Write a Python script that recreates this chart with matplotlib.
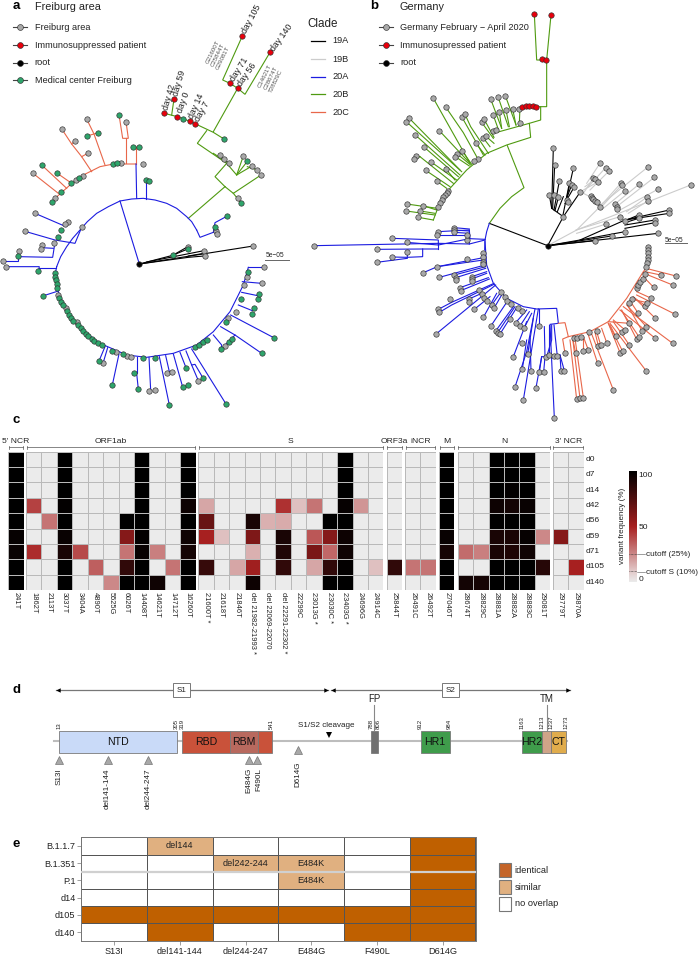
import numpy as np
import matplotlib
matplotlib.use('Agg')
import matplotlib.pyplot as plt
from matplotlib.colors import LinearSegmentedColormap, ListedColormap
from matplotlib.patches import Rectangle

plt.rcParams['font.family'] = ['Liberation Sans', 'DejaVu Sans']
W, H = 698, 955

BLUE, GREEN, ORANGE, LGREY = '#1c1ce0', '#4f9a10', '#e8674a', '#cccccc'
TIP_GREY, TIP_TEAL, TIP_RED = '#a9a9a9', '#2ea56b', '#e8000c'
TXT = '#222222'

# ---- panel a tree (units: 1/3 px, upper + lower part)
a_root = [(418, 792)]
a_black = [[(418, 792), (760, 738)], [(418, 792), (518, 766), (560, 742)], [(518, 766), (563, 747)],
           [(440, 786), (612, 752)], [(418, 792), (565, 772), (612, 768)], [(565, 768), (612, 760)]]
a_blue_up = [[(590, 690), (575, 665), (560, 650), (530, 625), (500, 610), (465, 600), (430, 595), (395, 597), (360, 603),
              (325, 620), (290, 640), (262, 665), (240, 690), (218, 715), (200, 740), (182, 770), (170, 800)],
             [(360, 603), (418, 792)], [(410, 595), (408, 492)], [(437, 597), (437, 541)], [(590, 690), (600, 712), (640, 697)],
             [(640, 697), (645, 668), (682, 648)], [(105, 640), (198, 680)], [(75, 694), (165, 720), (225, 730), (245, 682)]]
a_blue_low = [[(170, 125), (165, 150), (175, 200), (200, 260), (240, 310), (300, 355), (380, 390), (440, 397), (520, 385),
               (590, 360), (640, 320), (690, 260), (730, 180), (745, 127)],
              [(58, 95), (158, 97), (163, 65)], [(125, 68), (160, 70)], [(8, 108), (55, 108), (55, 95)],
              [(18, 125), (118, 125), (116, 136)], [(118, 128), (167, 128)], [(128, 213), (175, 198)],
              [(315, 365), (297, 408)], [(323, 368), (309, 415)], [(357, 387), (337, 480)], [(402, 445), (410, 445), (410, 395)],
              [(410, 445), (415, 493)], [(447, 397), (452, 495)], [(478, 395), (508, 540)], [(497, 392), (508, 440)],
              [(520, 387), (548, 486)], [(540, 382), (558, 428)], [(558, 378), (575, 420), (595, 467)], [(575, 420), (585, 418), (609, 459)],
              [(575, 372), (678, 537)], [(640, 330), (665, 360), (664, 372)], [(662, 305), (705, 330), (785, 385)],
              [(705, 330), (664, 372)], [(692, 270), (823, 339)], [(715, 240), (757, 257)], [(725, 202), (773, 212)],
              [(727, 170), (785, 175)], [(745, 127), (793, 127)]]
a_orange = [[(408, 492), (340, 492), (300, 500), (250, 525), (210, 555), (165, 595)],
            [(260, 357), (282, 402), (315, 495)], [(260, 408), (282, 402), (293, 398)],
            [(186, 388), (215, 432), (245, 470), (275, 515)], [(225, 422), (215, 432)], [(263, 460), (245, 470)],
            [(125, 495), (200, 565)], [(172, 520), (215, 550)], [(99, 520), (175, 580)],
            [(357, 344), (368, 415), (385, 415), (378, 365)], [(378, 415), (378, 490)], [(400, 442), (416, 441)], [(408, 442), (408, 492)]]
a_green = [[(565, 655), (675, 560)], [(675, 560), (700, 580), (783, 525)], [(700, 580), (712, 595), (722, 609)],
           [(675, 560), (645, 530), (680, 490)], [(680, 490), (710, 525), (730, 468)], [(710, 525), (742, 484)], [(710, 525), (756, 498)],
           [(742, 500), (772, 510)], [(640, 460), (686, 489)], [(680, 490), (592, 430), (620, 392)], [(493, 340), (532, 350), (570, 364), (640, 397), (672, 417)],
           [(515, 345), (522, 297)], [(640, 395), (713, 265), (735, 283), (810, 157)], [(713, 265), (690, 250), (668, 240), (727, 108)]]
a_grey_up = [(760, 738), (563, 740), (612, 752), (614, 768), (649, 692), (650, 702), (245, 682), (105, 640), (75, 694), (205, 665), (195, 672),
             (58, 753), (8, 783), (18, 800), (127, 735), (122, 747), (163, 730), (660, 465), (672, 477), (686, 489), (730, 468), (756, 498),
             (772, 510), (783, 525), (713, 595), (260, 357), (186, 388), (225, 422), (263, 460), (99, 520), (378, 365), (363, 490), (428, 491),
             (250, 527), (227, 541), (165, 595)]
a_teal_up = [(518, 766), (563, 747), (645, 680), (682, 648), (183, 690), (173, 712), (55, 768), (115, 812), (672, 417), (742, 484), (722, 609),
             (550, 356), (293, 398), (260, 408), (125, 495), (172, 520), (157, 606), (357, 344), (400, 442), (416, 441), (338, 493), (350, 490),
             (238, 533), (214, 548), (184, 575), (437, 541), (448, 542)]
a_red_up = [(493, 340), (532, 350), (569, 364), (586, 372), (522, 297), (690, 250), (713, 265), (727, 108), (810, 157)]
a_grey_low = [(175, 210), (197, 250), (230, 292), (347, 381), (380, 392), (392, 395), (309, 415), (448, 498), (464, 496), (502, 444), (516, 440),
              (595, 467), (676, 363), (708, 260), (685, 280), (733, 181), (742, 155), (793, 127), (785, 175)]
a_teal_low = [(165, 145), (165, 155), (168, 165), (170, 177), (172, 188), (128, 213), (178, 220), (183, 230), (190, 240), (202, 258), (208, 270),
              (213, 278), (220, 287), (235, 300), (243, 310), (250, 318), (258, 326), (265, 333), (275, 341), (283, 348), (295, 353), (305, 360),
              (335, 377), (368, 388), (428, 398), (464, 398), (585, 366), (597, 360), (608, 352), (620, 345), (297, 408), (337, 480), (402, 445),
              (415, 493), (508, 540), (548, 486), (563, 480), (558, 428), (609, 459), (678, 537), (664, 372), (686, 352), (697, 341), (785, 385),
              (823, 339), (677, 290), (757, 266), (762, 250), (722, 222), (773, 222), (778, 206), (745, 140)]

day_text = ['day 42', 'day 59', 'day 0', 'day 14', 'day 7', 'day 71', 'day 56', 'day 105', 'day 140']
day_xy = [(497, 328), (528, 288), (538, 338), (574, 354), (591, 362), (697, 241), (719, 256), (733, 100), (816, 150)]
day_rot = [74, 74, 70, 66, 61, 58, 55, 62, 54]
mut_text = ['G21600T\nC25844T\nG29081T', 'C14621T\nC28674T\nT28829C']
mut_xy = [(654, 165), (812, 235)]

# ---- panel b tree
b_root = [(593, 737)]
b_black = [[(593, 737), (418, 670)], [(593, 737), (640, 650), (690, 577)], [(640, 650), (605, 625), (598, 585)], [(605, 625), (610, 443)],
           [(608, 625), (614, 495)], [(612, 630), (628, 543)], [(615, 632), (625, 592)], [(622, 635), (640, 590)], [(638, 650), (658, 550)],
           [(650, 595), (670, 505)], [(648, 600), (665, 555)], [(650, 600), (672, 562)], [(645, 610), (655, 605)],
           [(593, 737), (925, 700)], [(593, 737), (735, 722)], [(593, 737), (785, 708)], [(593, 737), (690, 720), (825, 695)], [(690, 720), (825, 660), (958, 630)],
           [(825, 660), (958, 640)], [(825, 675), (915, 660)], [(825, 685), (915, 668)], [(825, 662), (866, 645)], [(825, 668), (866, 655)]]
b_lgrey = [[(593, 737), (680, 690), (1022, 555)], [(680, 700), (768, 672)], [(678, 690), (810, 650)], [(680, 690), (750, 620), (720, 590), (700, 580), (730, 535)],
           [(700, 570), (745, 545)], [(705, 560), (735, 538)], [(710, 550), (750, 490)], [(715, 560), (767, 503)], [(720, 570), (777, 513)],
           [(745, 620), (895, 500)], [(750, 620), (812, 550)], [(755, 620), (815, 555)], [(760, 625), (825, 572)], [(795, 612), (868, 552)], [(800, 620), (913, 532)],
           [(810, 630), (925, 567)], [(830, 635), (890, 592)], [(835, 640), (895, 602)]]
b_green = [[(418, 670), (450, 625), (485, 590), (522, 563), (472, 437)], [(250, 660), (265, 620), (300, 565), (350, 510), (410, 460), (470, 435), (542, 412), (538, 370), (430, 400)],
           [(538, 370), (572, 360), (572, 320), (510, 320), (508, 370)], [(572, 320), (590, 320), (590, 180), (560, 180), (553, 43)], [(590, 180), (603, 45)],
           [(422, 297), (455, 385)], [(444, 290), (475, 380)], [(466, 287), (498, 375)], [(430, 346), (445, 388)], [(448, 336), (455, 385)], [(468, 330), (478, 380)],
           [(488, 327), (498, 375)], [(395, 367), (430, 415)], [(402, 357), (432, 412)], [(400, 414), (420, 440)], [(408, 409), (432, 430)], [(378, 430), (405, 465)],
           [(335, 350), (400, 465)], [(345, 343), (362, 380), (415, 460)], [(287, 321), (340, 398), (380, 470)], [(249, 293), (360, 490)], [(178, 355), (330, 510)],
           [(169, 365), (335, 515)], [(196, 405), (330, 525)], [(268, 392), (360, 490)], [(223, 442), (325, 530)], [(199, 467), (210, 470), (310, 550)],
           [(193, 478), (210, 470)], [(242, 485), (320, 540)], [(227, 511), (300, 560)], [(287, 506), (315, 540)], [(260, 543), (290, 565)],
           [(337, 453), (365, 493)], [(322, 462), (362, 495)], [(316, 470), (358, 498)], [(170, 612), (262, 625)], [(169, 633), (255, 645)],
           [(219, 617), (260, 630)], [(211, 633), (255, 640)], [(205, 652), (250, 660)]]
b_blue_up = [[(418, 670), (410, 695), (405, 720), (404, 750)], [(405, 718), (360, 716), (358, 690)], [(358, 716), (265, 735), (265, 720), (127, 715)], [(265, 735), (170, 727)]]
b_blue_low = [[(405, 50), (410, 120), (430, 175), (470, 220), (520, 245), (560, 252), (620, 250), (625, 295), (600, 298), (613, 579)],
              [(-108, 62), (265, 55), (358, 57), (405, 45)], [(358, 57), (358, 15), (263, 20)], [(358, 12), (313, 8)], [(358, 18), (313, 15)], [(358, 25), (312, 22)],
              [(358, 30), (260, 30)], [(265, 72), (218, 72), (80, 73)], [(218, 72), (218, 95), (172, 97), (172, 82)], [(172, 97), (127, 96)], [(172, 100), (80, 112)],
              [(265, 72), (265, 55)], [(400, 98), (262, 125), (220, 143)], [(262, 125), (400, 105)], [(268, 157), (405, 120)], [(313, 150), (407, 125)], [(317, 158), (407, 130)],
              [(365, 155), (410, 140)], [(365, 162), (410, 145)], [(330, 188), (415, 158)], [(332, 197), (418, 162)], [(265, 253), (305, 232), (432, 175)], [(268, 262), (305, 240), (432, 178)],
              [(257, 328), (437, 180)], [(357, 222), (395, 205)], [(373, 253), (420, 215)], [(400, 277), (440, 205)], [(422, 304), (468, 235)], [(437, 318), (490, 245)],
              [(443, 323), (495, 245)], [(450, 327), (500, 248)], [(425, 240), (450, 205)], [(433, 248), (455, 210)], [(497, 293), (530, 255)], [(510, 303), (538, 260)], [(523, 308), (545, 265)],
              [(555, 252), (530, 380), (495, 486)], [(565, 252), (520, 525)], [(540, 340), (543, 437)], [(530, 345), (517, 432)], [(550, 280), (533, 388)], [(490, 395), (530, 290)],
              [(583, 305), (585, 395), (575, 395), (558, 488)], [(575, 395), (568, 441)], [(585, 395), (581, 441)], [(598, 300), (598, 391)], [(605, 300), (605, 345), (590, 395)],
              [(612, 300), (622, 394)], [(630, 390), (633, 437)], [(630, 390), (643, 437)], [(566, 252), (566, 303)]]
b_orange = [[(625, 295), (645, 293), (655, 335), (638, 342), (645, 385)], [(655, 335), (720, 320), (775, 290), (830, 220), (880, 140), (888, 130)],
            [(660, 345), (680, 523)], [(668, 340), (690, 520)], [(675, 340), (700, 518)], [(668, 340), (677, 385)], [(700, 335), (715, 375)], [(700, 335), (700, 379)],
            [(715, 330), (743, 415)], [(725, 327), (790, 495)], [(735, 322), (745, 362)], [(740, 320), (752, 360)], [(755, 310), (770, 353)], [(775, 295), (810, 383)],
            [(775, 295), (818, 379)], [(780, 295), (888, 437)], [(810, 255), (916, 340)], [(820, 245), (968, 355)], [(815, 255), (860, 343)], [(815, 258), (868, 337)],
            [(830, 240), (889, 305)], [(835, 245), (877, 319)], [(840, 228), (865, 265)], [(860, 200), (902, 219)], [(860, 210), (976, 268)], [(850, 215), (916, 280)],
            [(855, 220), (886, 242)], [(855, 225), (892, 233)], [(882, 145), (968, 180)], [(880, 155), (911, 187)], [(888, 130), (978, 153)], [(885, 140), (932, 150)],
            [(775, 290), (838, 295)], [(780, 300), (797, 334)], [(790, 285), (825, 315)], [(790, 290), (838, 360)]]
b_grey_up = [(422, 297), (444, 290), (466, 287), (430, 346), (448, 336), (468, 330), (488, 327), (508, 327), (510, 370), (430, 393), (438, 390), (395, 367), (402, 357), (400, 414), (408, 409),
             (378, 430), (335, 350), (345, 343), (287, 321), (249, 293), (178, 355), (169, 365), (196, 405), (268, 392), (223, 442), (199, 467), (193, 478), (242, 485), (227, 511),
             (287, 506), (260, 543), (337, 453), (322, 462), (316, 470), (383, 478), (373, 482), (295, 572), (290, 578), (285, 585), (280, 592), (275, 600), (270, 608), (265, 620),
             (170, 612), (219, 617), (169, 633), (211, 633), (205, 652), (610, 443), (614, 495), (598, 585), (612, 585), (625, 590), (628, 543), (640, 650), (690, 577), (670, 505),
             (658, 550), (665, 555), (672, 562), (650, 600), (655, 605), (925, 700), (735, 722), (785, 708), (825, 695), (958, 630), (958, 640), (915, 660), (915, 668), (866, 645),
             (866, 655), (825, 662), (810, 650), (768, 672), (1022, 555), (750, 490), (767, 503), (777, 513), (730, 535), (735, 538), (745, 545), (722, 588), (726, 593), (730, 597),
             (735, 602), (740, 606), (750, 620), (895, 500), (812, 550), (815, 555), (825, 572), (795, 612), (800, 620), (800, 627), (868, 552), (913, 532), (925, 567), (890, 592), (895, 602),
             (127, 715), (170, 727), (263, 695), (260, 705), (313, 683), (313, 690), (312, 697), (352, 720), (350, 705)]
b_grey_low = [(-108, 62), (80, 73), (172, 82), (127, 96), (80, 112), (352, 103), (262, 127), (220, 143), (398, 85), (398, 95), (400, 110), (400, 118), (268, 157), (313, 150), (317, 158), (318, 165),
              (365, 155), (365, 162), (367, 167), (330, 188), (332, 197), (300, 223), (265, 253), (268, 262), (257, 328), (388, 195), (395, 208), (403, 220), (412, 228), (357, 222), (358, 230),
              (373, 253), (400, 277), (425, 240), (433, 248), (422, 304), (437, 318), (443, 323), (450, 327), (452, 200), (465, 215), (472, 228), (482, 238), (505, 248), (515, 257), (480, 283),
              (497, 293), (510, 303), (523, 308), (490, 395), (495, 486), (517, 355), (533, 388), (517, 432), (543, 437), (520, 525), (558, 488), (566, 303), (568, 441), (581, 441), (588, 395),
              (598, 391), (612, 393), (622, 394), (613, 579), (633, 437), (643, 437), (645, 385), (677, 385), (672, 338), (680, 340), (692, 335), (718, 322), (740, 318), (680, 523), (690, 520), (700, 518),
              (715, 375), (700, 379), (743, 415), (790, 495), (745, 362), (752, 360), (770, 353), (810, 383), (818, 379), (888, 437), (797, 334), (815, 322), (825, 315), (838, 295), (838, 360),
              (860, 343), (868, 337), (877, 319), (889, 305), (916, 340), (968, 355), (865, 265), (845, 222), (837, 235), (886, 242), (892, 233), (902, 219), (916, 280), (976, 268), (860, 190),
              (865, 180), (870, 172), (878, 162), (885, 148), (968, 180), (911, 187), (978, 153), (932, 150), (895, 65), (895, 75), (895, 85), (895, 95), (893, 105), (890, 115), (888, 125)]
b_red = [(517, 320), (528, 319), (538, 319), (548, 319), (558, 320), (575, 178), (588, 180), (553, 43), (603, 45)]

clade_names = ['19A', '19B', '20A', '20B', '20C']
clade_cols = ['black', LGREY, BLUE, GREEN, ORANGE]

# ---- panel c
row_names = ['d0', 'd7', 'd14', 'd42', 'd56', 'd59', 'd71', 'd105', 'd140']
ncr5_labels = ['241T']
ncr5 = [[100], [100], [100], [100], [100], [98], [97], [100], [100]]
orf1ab_labels = ['1862T', '2113T', '3037T', '3404A', '4890T', '5525G', '6026T', '14408T', '14621T', '14712T', '16260T']
orf1ab = [[0, 0, 100, 0, 0, 0, 0, 100, 0, 0, 100],
          [0, 0, 100, 0, 0, 0, 0, 100, 0, 0, 100],
          [0, 0, 100, 0, 0, 0, 0, 100, 0, 0, 100],
          [42, 0, 99, 0, 0, 0, 0, 100, 0, 0, 96],
          [0, 30, 100, 0, 0, 0, 100, 100, 0, 0, 100],
          [0, 0, 97, 0, 0, 0, 60, 99, 0, 0, 95],
          [47, 0, 92, 40, 0, 0, 30, 97, 27, 0, 93],
          [0, 0, 100, 0, 35, 0, 85, 100, 0, 30, 100],
          [0, 0, 100, 0, 0, 25, 100, 100, 95, 0, 100]]
s_labels = ['21600T *', '21618T', '21846T', 'del 21982-21993 *', 'del 22069-22070', 'del 22291-22302 *', '22299C', '23013G *', '23030C *', '23403G *', '24696G', '24914C']
s_gene = [[0, 0, 0, 0, 0, 0, 0, 0, 0, 100, 0, 0],
          [0, 0, 0, 0, 0, 0, 0, 0, 0, 100, 0, 0],
          [0, 0, 0, 0, 0, 0, 0, 0, 0, 100, 0, 0],
          [18, 0, 0, 0, 0, 46, 12, 30, 0, 98, 22, 0],
          [68, 0, 0, 92, 16, 17, 0, 0, 100, 100, 0, 0],
          [50, 12, 0, 62, 0, 92, 0, 37, 60, 96, 0, 0],
          [0, 0, 0, 16, 0, 90, 0, 63, 33, 95, 0, 0],
          [83, 0, 18, 52, 0, 85, 0, 18, 85, 99, 0, 12],
          [0, 0, 0, 96, 0, 0, 0, 0, 100, 100, 0, 0]]
orf3a_labels = ['25844T']
orf3a = [[0], [0], [0], [0], [0], [0], [0], [85], [0]]
incr_labels = ['26491C', '26492T']
incr = [[0, 0], [0, 0], [0, 0], [0, 0], [0, 0], [0, 0], [0, 0], [30, 30], [0, 0]]
m_labels = ['27046T']
m_gene = [[100], [100], [100], [100], [100], [97], [93], [100], [100]]
n_labels = ['28674T', '28829C', '28881A', '28882A', '28883C', '29081T']
n_gene = [[0, 0, 100, 100, 100, 0],
          [0, 0, 100, 100, 100, 0],
          [0, 0, 100, 99, 100, 0],
          [0, 0, 96, 94, 97, 0],
          [0, 0, 100, 100, 100, 0],
          [0, 0, 92, 92, 98, 25],
          [32, 27, 92, 91, 95, 0],
          [0, 0, 100, 100, 100, 88],
          [94, 93, 100, 100, 100, 0]]
ncr3_labels = ['29779T', '29870A']
ncr3 = [[0, 0], [0, 0], [0, 0], [0, 0], [0, 0], [60, 0], [0, 0], [0, 50], [0, 0]]

group_names = ["5' NCR", 'ORF1ab', 'S', 'ORF3a', 'iNCR', 'M', 'N', "3' NCR"]
group_vals = [ncr5, orf1ab, s_gene, orf3a, incr, m_gene, n_gene, ncr3]
group_labels = [ncr5_labels, orf1ab_labels, s_labels, orf3a_labels, incr_labels, m_labels, n_labels, ncr3_labels]
group_left = [8.3, 26, 198.3, 386.7, 405, 439, 457.7, 552.7]
cell_w, cell_top, cell_bottom = 15.42, 451.7, 590.0

# ---- panel d, positions in amino acids of spike
domain_names = ['NTD', 'RBD', 'RBM', '', 'FP', 'HR1', 'HR2', 'TM', 'CT']
domain_start = [13, 319, 437, 508, 788, 912, 1163, 1213, 1237]
domain_end = [305, 437, 508, 541, 806, 984, 1213, 1237, 1273]
domain_cols = ['#c9daf8', '#c9523a', '#b8695e', '#c9523a', '#707070', '#3f9c4b', '#3f9c4b', '#cfa488', '#e0ac4c']
position_ticks = [13, 305, 319, 541, 788, 806, 912, 984, 1163, 1213, 1237, 1273]
mut_names = ['S13I', 'del141-144', 'del244-247', 'E484G', 'F490L', 'D614G']
mut_pos = [13, 133, 234, 486, 505, 607]

# ---- panel e
e_rows = ['B.1.1.7', 'B.1.351', 'P.1', 'd14', 'd105', 'd140']
e_cols = ['S13I', 'del141-144', 'del244-247', 'E484G', 'F490L', 'D614G']
overlap = [[0, 1, 0, 0, 0, 2],
           [0, 0, 1, 1, 0, 2],
           [0, 0, 0, 1, 0, 2],
           [0, 0, 0, 0, 0, 2],
           [2, 2, 2, 2, 2, 2],
           [0, 2, 0, 0, 2, 2]]
overlap_text = {(0, 1): 'del144', (1, 2): 'del242-244', (1, 3): 'E484K', (2, 3): 'E484K'}
legend_names = ['identical', 'similar', 'no overlap']
e_colors = ['white', '#e0b080', '#bf6000']
legend_cols = ['#c46428', '#e0b080', 'white']


def px_axes(x0, y0, x1, y1):
    a = fig.add_axes([x0 / W, 1 - y1 / H, (x1 - x0) / W, (y1 - y0) / H])
    return a


def shift(pts, dx=0, dy=0):
    return [(x + dx, y + dy) for x, y in pts]


def lines(items, col, dx=0, dy=0, lw=0.8):
    for pl in items:
        xy = np.array(shift(pl, dx, dy))
        ov.plot(xy[:, 0], xy[:, 1], color=col, lw=lw, solid_joinstyle='miter', zorder=2)


def tips(pts, col, dx=0, dy=0, ms=3.9):
    xy = np.array(shift(pts, dx, dy))
    ov.plot(xy[:, 0], xy[:, 1], ls='none', marker='o', ms=ms, mfc=col, mec='#303030', mew=0.45, zorder=3)


def key(x0, x1, y, col, label, tx):
    ov.plot([x0, x1], [y, y], color='#444444', lw=0.8, zorder=2)
    ov.plot([(x0 + x1) / 2], [y], marker='o', ms=4.2, mfc=col, mec='#303030', mew=0.45, zorder=3)
    ov.text(tx, y, label, fontsize=6.6, va='center', color=TXT)


fig = plt.figure(figsize=(W / 100, H / 100), dpi=100)
ov = fig.add_axes([0, 0, 1, 1])
ov.set_xlim(0, W * 3)
ov.set_ylim(H * 3, 0)
ov.axis('off')

LOW = 675
PB = 1050

# panel a
lines(a_black, 'black')
lines(a_green, GREEN)
lines(a_orange, ORANGE)
lines(a_blue_up, BLUE)
lines(a_blue_low, BLUE, dy=LOW)
tips(a_grey_up, TIP_GREY)
tips(a_teal_up, TIP_TEAL)
tips(a_red_up, TIP_RED)
tips(a_grey_low, TIP_GREY, dy=LOW)
tips(a_teal_low, TIP_TEAL, dy=LOW)
tips(a_root, 'black')
for t, (x, y), rot in zip(day_text, day_xy, day_rot):
    ov.text(x, y, t, rotation=rot, fontsize=6.3, ha='left', va='center', rotation_mode='anchor', color=TXT, zorder=4)
for t, (x, y) in zip(mut_text, mut_xy):
    ov.text(x, y, t, rotation=64, fontsize=4.4, ha='center', va='center', rotation_mode='anchor', color='#555555', linespacing=1.25)
ov.plot([795, 866], [780, 780], color='#666666', lw=0.7)
ov.text(825, 766, '5e−05', fontsize=4.8, ha='center', va='center', color=TXT)
ov.text(37, 18, 'a', fontsize=9.5, fontweight='bold', va='center', color='black')
ov.text(104, 20, 'Freiburg area', fontsize=7.8, va='center', color=TXT)
key(38, 80, 82, TIP_GREY, 'Freiburg area', 104)
key(38, 80, 135, TIP_RED, 'Immunosuppressed patient', 104)
key(38, 80, 188, 'black', 'root', 104)
key(38, 80, 241, TIP_TEAL, 'Medical center Freiburg', 104)
ov.text(921, 72, 'Clade', fontsize=8.4, va='center', color=TXT)
for nm, col, y in zip(clade_names, clade_cols, [122, 177, 230, 283, 337]):
    ov.plot([932, 975], [y, y], color=col, lw=0.9)
    ov.text(998, y, nm, fontsize=6.6, va='center', color=TXT)

# panel b
lines(b_black, 'black', dx=PB)
lines(b_lgrey, LGREY, dx=PB)
lines(b_green, GREEN, dx=PB)
lines(b_blue_up, BLUE, dx=PB)
lines(b_blue_low, BLUE, dx=PB, dy=LOW)
lines(b_orange, ORANGE, dx=PB, dy=LOW)
tips(b_grey_up, TIP_GREY, dx=PB)
tips(b_grey_low, TIP_GREY, dx=PB, dy=LOW)
tips(b_red, TIP_RED, dx=PB)
tips(b_root, 'black', dx=PB)
ov.plot([PB + 945, PB + 1010], [730, 730], color='#666666', lw=0.7)
ov.text(PB + 973, 720, '5e−05', fontsize=4.8, ha='center', va='center', color=TXT)
ov.text(PB + 62, 18, 'b', fontsize=9.5, fontweight='bold', va='center', color='black')
ov.text(PB + 148, 20, 'Germany', fontsize=7.8, va='center', color=TXT)
key(PB + 87, PB + 128, 82, TIP_GREY, 'Germany February − April 2020', PB + 150)
key(PB + 87, PB + 128, 135, TIP_RED, 'Immunosupressed patient', PB + 150)
key(PB + 87, PB + 128, 188, 'black', 'root', PB + 150)

# panel c
ov.text(37, 1260, 'c', fontsize=9.5, fontweight='bold', va='center', color='black')
cmap = LinearSegmentedColormap.from_list('freq', [(0, '#ebebeb'), (0.10, '#e2c8c8'), (0.25, '#cc8888'), (0.5, '#a82020'), (0.75, '#500f0f'), (1, '#000000')])
for nm, vals, labs, left in zip(group_names, group_vals, group_labels, group_left):
    vals = np.array(vals, dtype=float)
    right = left + cell_w * vals.shape[1]
    ax = px_axes(left, cell_top, right, cell_bottom)
    ax.pcolormesh(vals, cmap=cmap, vmin=0, vmax=100, edgecolors='#b9b9b9', linewidth=0.6)
    ax.set_ylim(vals.shape[0], 0)
    ax.set_xlim(0, vals.shape[1])
    ax.axis('off')
    for i, lab in enumerate(labs):
        ov.text((left + cell_w * (i + 0.5)) * 3, 592 * 3, lab, rotation=270, fontsize=5.4, ha='center', va='top', color=TXT)
    ov.plot([(left + 0.5) * 3, (right - 0.5) * 3], [447.3 * 3] * 2, color='#555555', lw=0.5)
    for xx in [left + 0.5, right - 0.5]:
        ov.plot([xx * 3, xx * 3], [445.8 * 3, 448.8 * 3], color='#555555', lw=0.5)
    ov.text((left + right) * 1.5, 441 * 3, nm, fontsize=6.1, ha='center', va='center', color=TXT)
for i, r in enumerate(row_names):
    ov.text(586 * 3, (cell_top + (i + 0.5) * (cell_bottom - cell_top) / 9) * 3, r, fontsize=6, va='center', color=TXT)

cb = px_axes(629.3, 471, 636.7, 581.7)
cb.imshow(np.linspace(100, 0, 256).reshape(-1, 1), cmap=cmap, vmin=0, vmax=100, aspect='auto', extent=[0, 1, 0, 100])
cb.axis('off')
cb.plot([0, 1], [25, 25], color='#333333', lw=0.5, ls=(0, (1, 1)))
cb.plot([0, 1], [10, 10], color='#333333', lw=0.5, ls=(0, (1, 1)))
cb.set_xlim(0, 1)
cb.set_ylim(0, 100)
ov.plot([636.7 * 3, 645 * 3], [554 * 3, 554 * 3], color='#555555', lw=0.4)
ov.plot([636.7 * 3, 645 * 3], [571.5 * 3, 571.5 * 3], color='#555555', lw=0.4)
ov.text(638.5 * 3, 475 * 3, '100', fontsize=6, va='center', color=TXT)
ov.text(638.5 * 3, 527 * 3, '50', fontsize=6, va='center', color=TXT)
ov.text(638.5 * 3, 579 * 3, '0', fontsize=6, va='center', color=TXT)
ov.text(645.5 * 3, 554 * 3, 'cutoff (25%)', fontsize=5.9, va='center', color=TXT)
ov.text(645.5 * 3, 572 * 3, 'cutoff S (10%)', fontsize=5.9, va='center', color=TXT)
ov.text(622.5 * 3, 526 * 3, 'variant frequency (%)', fontsize=5.8, rotation=90, ha='center', va='center', color=TXT)

# panel d, x is amino acid position, y is px
PX_AA = 0.402
x_aa = lambda px: (px - 59.3) / PX_AA + 13
axd = px_axes(40, 670, 600, 815)
axd.set_xlim(x_aa(40), x_aa(600))
axd.set_ylim(815, 670)
axd.axis('off')
ov.text(37, 690 * 3, 'd', fontsize=9.5, fontweight='bold', va='center', color='black')
axd.plot([x_aa(54), x_aa(567)], [741, 741], color='#bdbdbd', lw=1.5, zorder=1)
for s, e, c in zip(domain_start, domain_end, domain_cols):
    axd.add_patch(Rectangle((s, 730.7), e - s, 22, fc=c, ec='#7a7a7a', lw=0.6, zorder=2))
for nm, s, e in zip(domain_names, domain_start, domain_end):
    if nm in ('FP', 'TM', ''):
        continue
    axd.text((s + e) / 2, 742, nm, fontsize=7.6, ha='center', va='center', color='#111111', zorder=3)
for p in position_ticks:
    axd.text(p, 729, str(p), fontsize=4.3, rotation=90, ha='center', va='bottom', color=TXT)
# FP / TM callouts
axd.plot([797, 797], [705, 730], color='#888888', lw=0.8)
axd.plot([1225, 1225], [705, 730], color='#888888', lw=0.8)
axd.text(797, 699, 'FP', fontsize=7, ha='center', va='center', color=TXT)
axd.text(1225, 699, 'TM', fontsize=7, ha='center', va='center', color=TXT)
# S1 / S2 arrows
for a, b, nm in [(x_aa(56), x_aa(328), 'S1'), (x_aa(331), x_aa(570), 'S2')]:
    axd.plot([a, b], [690, 690], color='#777777', lw=0.9, zorder=1)
    axd.plot([a + 6], [690], marker='<', ms=3.2, color='black', mew=0, zorder=2)
    axd.plot([b - 6], [690], marker='>', ms=3.2, color='black', mew=0, zorder=2)
axd.text(x_aa(181.5), 690, 'S1', fontsize=5.8, ha='center', va='center', color=TXT, bbox=dict(boxstyle='square,pad=0.45', fc='white', ec='#777777', lw=0.7), zorder=3)
axd.text(x_aa(450.5), 690, 'S2', fontsize=5.8, ha='center', va='center', color=TXT, bbox=dict(boxstyle='square,pad=0.45', fc='white', ec='#777777', lw=0.7), zorder=3)
axd.text(x_aa(298), 725, 'S1/S2 cleavage', fontsize=5.8, ha='left', va='center', color=TXT)
axd.plot([x_aa(329)], [735], marker='v', ms=4, color='black', mew=0)
for nm, p in zip(mut_names, mut_pos):
    ty = 750 if nm == 'D614G' else 760
    lab_y = 761 if nm == 'D614G' else 768
    dx = {'E484G': -1, 'F490L': 1.5}.get(nm, 0)
    axd.plot([p], [ty], marker='^', ms=5.2, mfc='#a8a8a8', mec='#777777', mew=0.5)
    axd.text(p + dx / PX_AA, lab_y, nm, fontsize=5.9, rotation=90, ha='center', va='top', color=TXT)

# panel e
ov.text(37, 844 * 3, 'e', fontsize=9.5, fontweight='bold', va='center', color='black')
axe = px_axes(81.3, 837.3, 475.5, 940.7)
over = np.array(overlap)
axe.pcolormesh(over, cmap=ListedColormap(e_colors), vmin=-0.5, vmax=2.5, edgecolors='#555555', linewidth=0.5)
axe.set_ylim(len(e_rows), 0)
axe.set_xlim(0, len(e_cols))
axe.plot([0, 6], [2, 2], color='#d0d0d0', lw=1.6, zorder=3)
for (r, c), t in overlap_text.items():
    axe.text(c + 0.5, r + 0.5, t, fontsize=6.6, ha='center', va='center', color='#222222', zorder=4)
axe.set_xticks(np.arange(6) + 0.5)
axe.set_xticklabels(e_cols, fontsize=6.6, color=TXT)
axe.set_yticks(np.arange(6) + 0.5)
axe.set_yticklabels(e_rows, fontsize=6.6, color=TXT)
axe.tick_params(length=3, width=0.5, color='#777777', pad=1.2)
for s in axe.spines.values():
    s.set_color('#777777')
    s.set_linewidth(0.7)
for nm, col, y0 in zip(legend_names, legend_cols, [863, 880, 896.7]):
    ov.add_patch(Rectangle((498.7 * 3, y0 * 3), 12.8 * 3, 14 * 3, fc=col, ec='#777777', lw=0.8))
    ov.text(514.7 * 3, (y0 + 7) * 3, nm, fontsize=6.7, va='center', color=TXT)

fig.savefig('out.png', dpi=100)
